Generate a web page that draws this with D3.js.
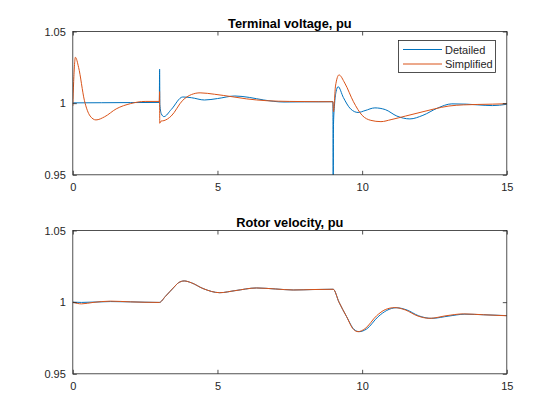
<!DOCTYPE html>
<html>
<head>
<meta charset="utf-8">
<script src="https://cdn.jsdelivr.net/npm/d3@7"></script>
<style>
  body { margin: 0; background: #fff; }
  text { font-family: "Liberation Sans", Arial, sans-serif; }
</style>
</head>
<body>
<svg id="chart"></svg>
<script>
// --- data ---
var xTicks = [0, 5, 10, 15];
var yTicks = [0.95, 1, 1.05];
var titles = ["Terminal voltage, pu", "Rotor velocity, pu"];
var legendLabels = ["Detailed", "Simplified"];

// terminal voltage, detailed model
var tVoltDet = [0, 1, 2, 2.99, 3.0, 3.01, 3.06, 3.15, 3.4, 3.8, 4.1, 4.55, 5.0, 5.6, 6.1, 6.6, 7.3, 8.0, 8.99,
  9.0, 9.01, 9.05, 9.1, 9.17, 9.35, 9.6, 9.86, 10.1, 10.44, 10.8, 11.2, 11.65, 12.1, 12.6, 13.1, 13.6, 14.0, 14.5, 15];
var voltDet = [1.0002, 1.0003, 1.0004, 1.0005, 1.0237, 0.999, 0.9925, 0.9906, 0.9955, 1.0043, 1.0038, 1.0022, 1.0032, 1.0050, 1.0040, 1.0022, 1.0008, 1.0009, 1.001,
  0.93, 0.985, 1.000, 1.008, 1.0115, 1.004, 0.996, 0.9935, 0.9948, 0.9967, 0.9955, 0.991, 0.989, 0.9915, 0.9965, 0.9995, 0.9993, 0.9988, 0.9983, 0.9992];

// terminal voltage, simplified model
var tVoltSim = [0, 0.03, 0.09, 0.2, 0.4, 0.6, 0.8, 1.1, 1.5, 2.0, 2.5, 2.99, 3.0, 3.005, 3.05, 3.15, 3.4, 3.8, 4.1, 4.4, 4.9, 5.5, 6.0, 6.7, 7.5, 8.5, 8.99,
  9.01, 9.08, 9.2, 9.4, 9.7, 10.0, 10.3, 10.65, 11.0, 11.5, 12.0, 12.5, 13.0, 13.5, 14.0, 14.5, 15];
var voltSim = [0.998, 1.015, 1.032, 1.025, 1.002, 0.991, 0.9883, 0.9905, 0.996, 0.9997, 1.0012, 1.0012, 1.008, 0.986, 0.9875, 0.9878, 0.991, 1.002, 1.006, 1.0072, 1.0062, 1.0045, 1.003, 1.0017, 1.0012, 1.001, 1.001,
  0.994, 1.012, 1.0197, 1.014, 1.001, 0.9915, 0.988, 0.9871, 0.9885, 0.991, 0.9935, 0.996, 0.998, 0.9988, 0.9991, 0.9993, 0.9996];

// rotor velocity, detailed model
var tVelDet = [0, 0.3, 1.3, 2.0, 2.99, 3.2, 3.5, 3.65, 3.85, 4.1, 4.5, 5.08, 5.6, 6.35, 7.0, 7.62, 8.3, 9.0,
  9.2, 9.46, 9.72, 9.9, 10.15, 10.55, 10.85, 11.18, 11.55, 11.95, 12.4, 13.0, 13.55, 14.2, 15];
var velDet = [1.0, 0.9998, 1.0004, 1.0002, 0.9998, 1.004, 1.0105, 1.0135, 1.0148, 1.0135, 1.0095, 1.0066, 1.0080, 1.0099, 1.0092, 1.0085, 1.0088, 1.009,
  1.0, 0.990, 0.981, 0.9794, 0.9812, 0.9898, 0.9942, 0.9961, 0.9945, 0.9905, 0.9887, 0.9903, 0.9916, 0.9912, 0.9906];

// rotor velocity, simplified model
var tVelSim = [0, 0.3, 0.7, 1.3, 2.0, 2.99, 3.2, 3.5, 3.65, 3.85, 4.1, 4.5, 5.08, 5.6, 6.35, 7.0, 7.62, 8.3, 9.0,
  9.2, 9.46, 9.7, 9.86, 10.1, 10.5, 10.8, 11.13, 11.5, 11.9, 12.34, 12.9, 13.5, 14.2, 15];
var velSim = [1.0, 0.9988, 0.9998, 1.0007, 1.0002, 0.9998, 1.004, 1.0105, 1.0135, 1.0148, 1.0135, 1.0095, 1.0066, 1.0080, 1.0099, 1.0092, 1.0085, 1.0088, 1.009,
  1.0, 0.990, 0.981, 0.9794, 0.9815, 0.9905, 0.9948, 0.9962, 0.9945, 0.9905, 0.9887, 0.9905, 0.9918, 0.9912, 0.9905];

var W = 560, H = 420;
var colors = ["#0072BD", "#D95319"];
var axColor = "#262626";

var svg = d3.select("#chart").attr("width", W).attr("height", H);

var left = 72.8, right = 506.8;
var panels = [
  { top: 31.5, bottom: 174.8, title: titles[0], series: [[tVoltDet, voltDet], [tVoltSim, voltSim]], legend: true },
  { top: 230.5, bottom: 373.8, title: titles[1], series: [[tVelDet, velDet], [tVelSim, velSim]], legend: false }
];

panels.forEach(function(p, pi){
  var x = d3.scaleLinear().domain([0, 15]).range([left, right]);
  var y = d3.scaleLinear().domain([0.95, 1.05]).range([p.bottom, p.top]);

  var g = svg.append("g");

  g.append("clipPath").attr("id", "clip" + pi)
    .append("rect")
      .attr("x", left).attr("y", p.top)
      .attr("width", right - left).attr("height", p.bottom - p.top);

  var line = d3.line()
    .x(function(d){ return x(d[0]); })
    .y(function(d){ return y(d[1]); })
    .curve(d3.curveMonotoneX);

  p.series.forEach(function(s, si){
    var pts = s[0].map(function(t, i){ return [t, s[1][i]]; });
    g.append("path")
      .datum(pts)
      .attr("clip-path", "url(#clip" + pi + ")")
      .attr("fill", "none")
      .attr("stroke", colors[si])
      .attr("stroke-width", 1)
      .attr("d", line);
  });

  // axes with inward ticks, box on
  var xb = g.append("g").attr("transform", "translate(0," + p.bottom + ")")
    .call(d3.axisBottom(x).tickValues(xTicks).tickSize(-4).tickPadding(8).tickFormat(d3.format("d")));
  var xt = g.append("g").attr("transform", "translate(0," + p.top + ")")
    .call(d3.axisTop(x).tickValues(xTicks).tickSize(-4).tickFormat(""));
  var yl = g.append("g").attr("transform", "translate(" + left + ",0)")
    .call(d3.axisLeft(y).tickValues(yTicks).tickSize(-4).tickPadding(7).tickFormat(function(d){ return d === 1 ? "1" : d3.format(".2f")(d); }));
  var yr = g.append("g").attr("transform", "translate(" + right + ",0)")
    .call(d3.axisRight(y).tickValues(yTicks).tickSize(-4).tickFormat(""));

  [xb, xt, yl, yr].forEach(function(a){
    a.select(".domain").remove();
    a.selectAll("line").attr("stroke", axColor).attr("stroke-width", 0.8);
    a.selectAll("text").attr("fill", axColor).style("font-size", "11px")
      .style("font-family", "'Liberation Sans', Arial, sans-serif");
  });

  g.append("rect")
    .attr("x", left).attr("y", p.top)
    .attr("width", right - left).attr("height", p.bottom - p.top)
    .attr("fill", "none").attr("stroke", axColor).attr("stroke-width", 0.8);

  g.append("text")
    .attr("x", (left + right) / 2).attr("y", p.top - 3.5)
    .attr("text-anchor", "middle")
    .attr("fill", "#000")
    .style("font-size", "12.8px").style("font-weight", "bold")
    .text(p.title);

  if (p.legend) {
    var lg = g.append("g");
    lg.append("rect")
      .attr("x", 398.5).attr("y", 40.5).attr("width", 97).attr("height", 32)
      .attr("fill", "#fff").attr("stroke", axColor).attr("stroke-width", 0.8);
    legendLabels.forEach(function(lab, i){
      var ly = 49.5 + i * 14.5;
      lg.append("line")
        .attr("x1", 403).attr("x2", 442).attr("y1", ly).attr("y2", ly)
        .attr("stroke", colors[i]).attr("stroke-width", 1);
      lg.append("text")
        .attr("x", 445).attr("y", ly + 4)
        .attr("fill", axColor)
        .style("font-size", "11px")
        .text(lab);
    });
  }
});
</script>
</body>
</html>
